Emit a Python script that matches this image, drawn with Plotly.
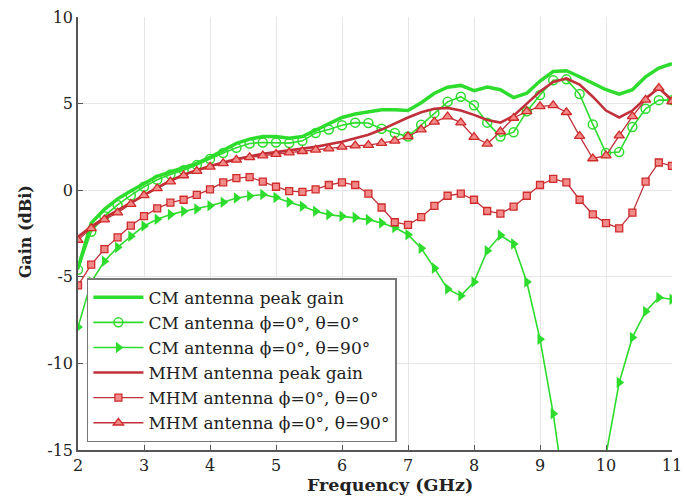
import plotly.graph_objects as go

# Frequency samples (GHz)
freq = [2.0, 2.2, 2.4, 2.6, 2.8, 3.0, 3.2, 3.4, 3.6, 3.8,
        4.0, 4.2, 4.4, 4.6, 4.8, 5.0, 5.2, 5.4, 5.6, 5.8,
        6.0, 6.2, 6.4, 6.6, 6.8, 7.0, 7.2, 7.4, 7.6, 7.8,
        8.0, 8.2, 8.4, 8.6, 8.8, 9.0, 9.2, 9.4, 9.6, 9.8,
        10.0, 10.2, 10.4, 10.6, 10.8, 11.0]

# Gain values (dBi)
cm_peak = [-4.5, -1.9, -1.1, -0.5, -0.05, 0.4, 0.8, 1.05, 1.3, 1.55,
           1.9, 2.3, 2.7, 2.95, 3.1, 3.1, 3.0, 3.1, 3.45, 3.85,
           4.2, 4.4, 4.55, 4.65, 4.65, 4.6, 5.05, 5.6, 5.95, 6.05,
           5.75, 5.95, 5.8, 5.35, 5.6, 6.3, 6.85, 6.9, 6.55, 6.2,
           5.8, 5.55, 5.8, 6.55, 7.05, 7.3]

cm_t0 = [-4.6, -2.4, -1.5, -0.85, -0.3, 0.2, 0.6, 0.9, 1.15, 1.45,
         1.8, 2.15, 2.45, 2.7, 2.75, 2.75, 2.72, 2.85, 3.3, 3.5,
         3.75, 3.9, 3.88, 3.55, 3.3, 3.1, 3.78, 4.45, 5.1, 5.4,
         4.9, 3.9, 3.1, 3.35, 4.55, 5.5, 6.35, 6.4, 5.55, 3.8,
         2.15, 2.2, 3.65, 4.7, 5.2, 5.2]

cm_t90 = [-7.9, -5.3, -4.1, -3.3, -2.66, -2.07, -1.68, -1.41, -1.22, -1.08,
          -0.9, -0.69, -0.45, -0.33, -0.25, -0.42, -0.7, -0.93, -1.22, -1.41,
          -1.51, -1.57, -1.7, -1.89, -2.15, -2.57, -3.35, -4.5, -5.7, -6.1,
          -5.3, -3.5, -2.6, -3.1, -5.3, -8.6, -12.9, -18.2, -21.0, -19.0,
          -15.3, -11.1, -8.5, -7.0, -6.2, -6.3]

mhm_peak = [-2.7, -2.1, -1.6, -1.15, -0.7, -0.25, 0.15, 0.55, 0.9, 1.15,
            1.4, 1.6, 1.8, 1.95, 2.1, 2.2, 2.3, 2.4, 2.5, 2.65,
            2.8, 3.0, 3.2, 3.5, 3.85, 4.2, 4.5, 4.7, 4.75, 4.6,
            4.35, 4.05, 3.9, 4.3, 5.0, 5.7, 6.25, 6.45, 6.1, 5.4,
            4.6, 4.2, 4.6, 5.3, 5.9, 5.2]

mhm_t0 = [-5.5, -4.3, -3.4, -2.72, -2.05, -1.5, -1.05, -0.72, -0.55, -0.27,
          0.05, 0.45, 0.7, 0.75, 0.5, 0.2, -0.05, -0.1, 0.05, 0.3,
          0.45, 0.3, -0.2, -1.0, -1.85, -2.0, -1.55, -0.9, -0.32, -0.2,
          -0.55, -1.2, -1.35, -0.95, -0.32, 0.3, 0.65, 0.45, -0.55, -1.4,
          -1.9, -2.2, -1.3, 0.5, 1.6, 1.4]

mhm_t90 = [-2.88, -2.2, -1.7, -1.3, -0.8, -0.3, 0.1, 0.5, 0.85, 1.1,
           1.35, 1.55, 1.75, 1.9, 2.0, 2.08, 2.17, 2.25, 2.33, 2.4,
           2.5, 2.57, 2.6, 2.72, 2.85, 3.1, 3.5, 3.95, 4.25, 3.9,
           3.07, 2.68, 3.39, 4.17, 4.55, 4.84, 4.9, 4.5, 3.12, 1.83,
           2.0, 3.15, 4.26, 5.22, 5.9, 5.12]

names = ["CM antenna peak gain",
         "CM antenna ϕ=0°, θ=0°",
         "CM antenna ϕ=0°, θ=90°",
         "MHM antenna peak gain",
         "MHM antenna ϕ=0°, θ=0°",
         "MHM antenna ϕ=0°, θ=90°"]

# Tick positions and labels (plain hyphen for negatives)
x_ticks = [2, 3, 4, 5, 6, 7, 8, 9, 10, 11]
x_labels = ["2", "3", "4", "5", "6", "7", "8", "9", "10", "11"]
y_ticks = [-15, -10, -5, 0, 5, 10]
y_labels = ["-15", "-10", "-5", "0", "5", "10"]

GREEN = "#2ddc2d"
RED_LINE = "#c0303a"
RED_EDGE = "#d02a2a"
RED_FILL = "#f28a8a"
SERIF = "DejaVu Serif, Liberation Serif, serif"
TEXT = "#222222"

fig = go.Figure()

fig.add_trace(go.Scatter(x=freq, y=cm_peak, name=names[0], mode="lines",
                         line=dict(color=GREEN, width=3.5)))
fig.add_trace(go.Scatter(x=freq, y=cm_t0, name=names[1], mode="lines+markers",
                         line=dict(color=GREEN, width=1.6),
                         marker=dict(symbol="circle-open", size=9, color=GREEN,
                                     line=dict(width=1.5, color=GREEN))))
fig.add_trace(go.Scatter(x=freq, y=cm_t90, name=names[2], mode="lines+markers",
                         line=dict(color=GREEN, width=1.6),
                         marker=dict(symbol="triangle-right", size=10, color=GREEN,
                                     line=dict(width=0))))
fig.add_trace(go.Scatter(x=freq, y=mhm_peak, name=names[3], mode="lines",
                         line=dict(color=RED_LINE, width=2.6)))
fig.add_trace(go.Scatter(x=freq, y=mhm_t0, name=names[4], mode="lines+markers",
                         line=dict(color=RED_LINE, width=1.3),
                         marker=dict(symbol="square", size=7, color=RED_FILL,
                                     line=dict(width=1.3, color=RED_EDGE))))
fig.add_trace(go.Scatter(x=freq, y=mhm_t90, name=names[5], mode="lines+markers",
                         line=dict(color=RED_LINE, width=1.3),
                         marker=dict(symbol="triangle-up", size=9, color=RED_FILL,
                                     line=dict(width=1.3, color=RED_EDGE))))

axis_common = dict(
    showgrid=True, gridcolor="#e6e6e6", gridwidth=1,
    showline=True, linecolor="#555555", linewidth=1.5,
    ticks="inside", ticklen=5, tickcolor="#555555",
    tickfont=dict(family=SERIF, size=16, color=TEXT),
    zeroline=False, mirror=False, ticklabeloverflow="allow",
    automargin=False,
)

fig.update_xaxes(range=[2, 11], tickmode="array", tickvals=x_ticks,
                 ticktext=x_labels, **axis_common)
fig.update_yaxes(range=[-15, 10], tickmode="array", tickvals=y_ticks,
                 ticktext=y_labels, **axis_common)

# Axis titles
fig.add_annotation(text="<b>Frequency (GHz)</b>", xref="paper", yref="paper",
                   x=0.525, y=-0.081, xanchor="center", yanchor="middle",
                   showarrow=False, font=dict(family=SERIF, size=17.5, color=TEXT))
fig.add_annotation(text="<b>Gain (dBi)</b>", xref="paper", yref="paper",
                   x=-0.089, y=0.503, xanchor="center", yanchor="middle",
                   textangle=-90, showarrow=False,
                   font=dict(family=SERIF, size=16, color=TEXT))

fig.update_layout(
    width=684, height=503,
    margin=dict(l=78, r=12, t=17, b=53),
    paper_bgcolor="white", plot_bgcolor="white",
    font=dict(family=SERIF, color=TEXT),
    legend=dict(x=0.015, y=0.018, xanchor="left", yanchor="bottom",
                bgcolor="white", bordercolor="#777777", borderwidth=1.5,
                font=dict(family=SERIF, size=17, color=TEXT),
                itemwidth=50, tracegroupgap=0),
    showlegend=True,
)

fig.write_html("out.html")
